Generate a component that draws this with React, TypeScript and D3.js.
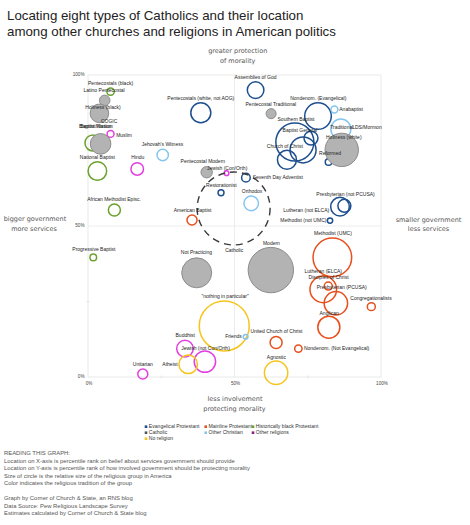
import React from "react";
import * as d3 from "d3";

// ---------- data ----------
const traditions = ["E", "M", "B", "C", "O", "R", "N"];
const traditionNames = [
  "Evangelical Protestant",
  "Mainline Protestant",
  "Historically black Protestant",
  "Catholic",
  "Other Christian",
  "Other religions",
  "No religion",
];
const traditionColors = ["#1d4f8e", "#e84f1c", "#6aa12d", "#b3b3b3", "#84c5ef", "#e23fe0", "#f6c51c"];

const groups = [
  "Pentecostals (black)", "Muslim", "Baptist (black, other)", "National Baptist", "Hindu",
  "Jehovah's Witness", "Pentecostals (white, not AOG)", "Assemblies of God", "Nondenom. (Evangelical)",
  "Anabaptist", "LDS/Mormon", "Southern Baptist", "Baptist (other Evangelical)", "Church of Christ",
  "Baptist General", "Reformed", "Jewish (Con/Orth)", "Seventh Day Adventist", "Restorationist",
  "Orthodox", "American Baptist", "Presbyterian (not PCUSA)", "Lutheran (not ELCA)", "Methodist (not UMC)",
  "Methodist (UMC)", "Lutheran (ELCA)", "Disciples of Christ", "Presbyterian (PCUSA)", "Congregationalists",
  "Anglican", "United Church of Christ", "Nondenom. (Not Evangelical)", "Agnostic", "Progressive Baptist",
  "African Methodist Episc.", "nothing in particular", "Friends", "Buddhist", "Jewish (not Con/Orth)",
  "Atheist", "Unitarian",
  "Catholic: Latino Pentecostal", "Catholic: Holiness", "Catholic: Baptist", "Catholic: Pentecostal Traditional",
  "Catholic: Traditional", "Catholic: Pentecostal Modern", "Catholic: Modern", "Catholic: Not Practicing",
];
const groupTradition = [
  "B", "R", "B", "B", "R", "O", "E", "E", "E", "O", "O", "E", "E", "E", "E", "E", "R", "E", "E", "O",
  "M", "E", "E", "E", "M", "M", "M", "M", "M", "M", "M", "M", "N", "B", "B", "N", "O", "R", "R", "N", "R",
  "C", "C", "C", "C", "C", "C", "C", "C",
];
// percentile rank on belief about services government should provide (x)
const servicesRank = [
  7.7, 7.7, 1.7, 3.2, 16.8, 25.5, 38.5, 57.2, 78.5, 84.1, 86.3, 70.6, 73.4, 67.9, 76.1, 82.1, 47.3, 53.9,
  45.4, 55.7, 35.5, 86.0, 87.5, 82.6, 83.4, 80.3, 82.0, 84.6, 96.7, 82.2, 64.2, 71.8, 64.2, 1.8, 9.0, 46.5,
  53.8, 33.1, 39.9, 34.2, 18.7,
  5.7, 3.9, 4.3, 62.5, 86.6, 40.5, 62.4, 37.1,
];
// percentile rank of how involved government should be protecting morality (y)
const moralityRank = [
  94.5, 80.5, 77.5, 68.2, 68.9, 73.5, 87.5, 95.0, 86.4, 88.6, 82.1, 77.8, 75.2, 71.9, 79.1, 71.2, 67.5, 66.0,
  61.0, 57.5, 52.0, 56.4, 56.7, 51.8, 39.6, 29.0, 30.1, 24.4, 23.3, 16.5, 11.4, 9.4, 1.4, 39.6, 55.3, 16.9,
  13.3, 9.4, 5.1, 4.2, 1.0,
  91.6, 87.3, 77.2, 87.2, 75.2, 67.8, 35.4, 34.5,
];
// relative size of the group in America (% of adults)
const groupShare = [
  0.25, 0.22, 1.17, 1.58, 0.72, 0.59, 1.83, 1.26, 3.23, 0.22, 1.83, 6.6, 3.09, 1.65, 0.89, 0.2, 0.1, 0.34,
  0.16, 0.97, 0.46, 1.58, 0.77, 0.13, 6.8, 3.23, 0.29, 2.5, 0.29, 2.21, 0.66, 0.25, 2.5, 0.2, 0.66, 11.4,
  0.1, 1.26, 2.09, 1.58, 0.46,
  0.51, 1.58, 1.94, 0.46, 5.09, 0.59, 9.41, 4.11,
];
// all Catholics together (dashed circle)
const catholicAll = { label: "Catholic", x: 49.7, y: 55.8, share: 24.3 };

// label annotations (in data coordinates)
const labelText = [
  "Pentecostals  (black)", "Latino Pentecostal", "Holiness (black)", "COGIC", "Baptist Mission", "Baptist Nation",
  "Muslim", "National Baptist", "Hindu", "Jehovah's Witness", "Pentecostals (white, not AOG)", "Assemblies of God",
  "Pentecostal Traditional", "Nondenom. (Evangelical)", "Anabaptist", "Southern Baptist", "Traditional",
  "LDS/Mormon", "Baptist General", "Holiness (white)", "Church of Christ", "Reformed", "Pentecostal Modern",
  "Jewish (Con/Orth)", "Seventh Day Adventist", "Restorationist", "Orthodox", "American Baptist",
  "African Methodist Episc.", "Presbyterian (not PCUSA)", "Lutheran (not ELCA)", "Methodist (not UMC)",
  "Methodist (UMC)", "Lutheran (ELCA)", "Disciples of Christ", "Presbyterian (PCUSA)", "Congregationalists",
  "Anglican", "United Church of Christ", "Nondenom. (Not Evangelical)", "Agnostic", "Modern", "Catholic",
  "Not Practicing", "Progressive Baptist", "\"nothing in particular\"", "Friends", "Buddhist",
  "Jewish (not Con/Orth)", "Atheist", "Unitarian",
];
const labelX = [
  7.7, 5.5, 5.1, 7.2, 2.7, 2.7, 9.6, 3.2, 17.0, 25.4, 38.5, 57.2, 62.4, 78.6, 89.8, 71.0, 86.6, 95.2, 72.3,
  87.3, 67.2, 82.6, 39.2, 47.5, 56.2, 45.5, 56.0, 35.7, 8.9, 87.9, 74.5, 73.5, 83.6, 80.3, 82.1, 86.6, 96.6,
  82.3, 64.3, 73.7, 64.3, 62.6, 49.9, 37.0, 2.0, 46.8, 52.5, 33.2, 40.1, 30.6, 18.7,
];
const labelY = [
  97.0, 94.7, 89.2, 84.5, 82.9, 82.9, 79.9, 72.6, 72.6, 76.8, 92.3, 99.2, 90.3, 92.3, 88.6, 85.1, 82.6, 82.6,
  81.5, 79.2, 76.3, 74.0, 71.4, 68.9, 65.9, 63.3, 61.4, 55.2, 58.6, 60.5, 55.1, 51.8, 47.6, 34.9, 33.0, 29.7,
  25.9, 21.1, 14.9, 9.4, 6.5, 44.3, 41.8, 41.2, 42.2, 26.6, 13.3, 13.6, 9.5, 4.2, 4.0,
];
const labelAnchor = labelText.map((t) =>
  t === "Muslim" || t === "Seventh Day Adventist" || t === "Nondenom. (Not Evangelical)"
    ? "start"
    : t === "Friends" || t === "Atheist"
    ? "end"
    : "middle"
);

const yTickLabels = [0, 50, 100];
const xTickLabels = [0, 50, 100];
const minorTicks = [25, 75];

const notes = [
  "READING THIS GRAPH:",
  "Location on X-axis is percentile rank on belief about services government should provide",
  "Location on Y-axis is percentile rank of how involved government should be protecting morality",
  "Size of circle is the relative size of the religious group in America",
  "Color indicates the religious tradition of the group",
  "",
  "Graph by Corner of Church & State, an RNS blog",
  "Data Source: Pew Religious Landscape Survey",
  "Estimates calculated by Corner of Church & State blog",
];

// ---------- chart ----------
const W = 470;
const H = 525;
const x = d3.scaleLinear().domain([0, 100]).range([88, 381]);
const y = d3.scaleLinear().domain([0, 100]).range([377, 75]);
const r = d3.scaleSqrt().domain([0, 1]).range([0, 7.4]);
const color = d3.scaleOrdinal<string, string>().domain(traditions).range(traditionColors);

const SANS = "'Liberation Sans', Arial, Helvetica, sans-serif";
const AXF = "'DejaVu Sans', Verdana, sans-serif";

export default function App() {
  const idx = d3.range(groups.length);
  const nonCath = idx.filter((i) => groupTradition[i] !== "C");
  const cath = idx.filter((i) => groupTradition[i] === "C");
  const legendOrder = [0, 1, 2, 3, 4, 5, 6];

  return (
    <svg
      width={W}
      height={H}
      viewBox={`0 0 ${W} ${H}`}
      style={{ position: "absolute", left: 0, top: 0, background: "#fff" }}
    >
      <g opacity={0.995}>
        <text x={7} y={20} fontFamily={SANS} fontSize={13.3} fill="#222">
          Locating eight types of Catholics and their location
        </text>
        <text x={7} y={36} fontFamily={SANS} fontSize={13.3} fill="#222">
          among other churches and religions in American politics
        </text>

        {/* axis direction labels */}
        <g fontFamily={AXF} fontSize={6.5} fill="#555" textAnchor="middle">
          <text x={237.7} y={53}>greater protection</text>
          <text x={237.7} y={63}>of morality</text>
          <text x={235} y={400.5}>less involvement</text>
          <text x={234.5} y={410.5}>protecting morality</text>
          <text x={35} y={220.5}>bigger government</text>
          <text x={34} y={230.5}>more services</text>
          <text x={428.5} y={221.5}>smaller government</text>
          <text x={428.5} y={231}>less services</text>
        </g>

        {/* frame and grid */}
        <rect x={x(0)} y={y(100)} width={x(100) - x(0)} height={y(0) - y(100)} fill="none" stroke="#e4e4e4" strokeWidth={0.8} />
        <line x1={x(50)} x2={x(50)} y1={y(0)} y2={y(100)} stroke="#e8e8e8" strokeWidth={0.8} />
        <line x1={x(0)} x2={x(100)} y1={y(50)} y2={y(50)} stroke="#e8e8e8" strokeWidth={0.8} />
        {minorTicks.map((t) => (
          <g key={t}>
            <line x1={x(0) - 1.5} x2={x(0) + 1.5} y1={y(t)} y2={y(t)} stroke="#e0e0e0" strokeWidth={0.8} />
            <line x1={x(t)} x2={x(t)} y1={y(0) - 1.5} y2={y(0) + 1.5} stroke="#e0e0e0" strokeWidth={0.8} />
          </g>
        ))}
        <g fontFamily={SANS} fontSize={4.6} fill="#444">
          {yTickLabels.map((t) => (
            <text key={"y" + t} x={x(0) - 3.5} y={y(t)} textAnchor="end" dominantBaseline="middle">
              {t}%
            </text>
          ))}
          {xTickLabels.map((t) => (
            <text key={"x" + t} x={x(t) + 1} y={y(0) + 6.5} textAnchor="middle" dominantBaseline="middle">
              {t}%
            </text>
          ))}
        </g>

        {/* bubbles */}
        <g fill="none" strokeWidth={1.5}>
          {nonCath.map((i) => (
            <circle
              key={groups[i]}
              cx={x(servicesRank[i])}
              cy={y(moralityRank[i])}
              r={r(groupShare[i])}
              stroke={color(groupTradition[i])}
            />
          ))}
        </g>
        <g>
          {cath.map((i) => (
            <circle
              key={groups[i]}
              cx={x(servicesRank[i])}
              cy={y(moralityRank[i])}
              r={r(groupShare[i])}
              fill={color("C")}
              stroke="#8c8c8c"
              strokeWidth={1}
            />
          ))}
        </g>
        <circle
          cx={x(catholicAll.x)}
          cy={y(catholicAll.y)}
          r={r(catholicAll.share)}
          fill="none"
          stroke="#3a3a3a"
          strokeWidth={1.4}
          strokeDasharray="7 5"
        />

        {/* labels */}
        <g fontFamily={SANS} fontSize={5} fill="#222">
          {labelText.map((t, i) => (
            <text key={i} x={x(labelX[i])} y={y(labelY[i])} textAnchor={labelAnchor[i]} dominantBaseline="middle">
              {t}
            </text>
          ))}
        </g>

        {/* legend */}
        <g fontFamily={SANS} fontSize={5.1} fill="#333">
          {legendOrder.map((k) => {
            const col = k < 6 ? k % 3 : 0;
            const row = k < 6 ? Math.floor(k / 3) : 2;
            const lx = [146, 205.7, 253][col];
            const ly = 426.7 + row * 6;
            return (
              <g key={k}>
                <rect x={lx - 1.3} y={ly - 1.3} width={2.6} height={2.6} fill={k === 3 ? "#555" : k === 5 ? "#8a1f8a" : traditionColors[k]} />
                <text x={lx + 2.8} y={ly} dominantBaseline="middle">
                  {traditionNames[k]}
                </text>
              </g>
            );
          })}
        </g>

        {/* notes */}
        <g fontFamily={SANS} fontSize={5.9} fill="#555">
          {notes.map((n, i) => (
            <text key={i} x={4} y={453.5 + i * 7.5} dominantBaseline="middle">
              {n}
            </text>
          ))}
        </g>
      </g>
    </svg>
  );
}
